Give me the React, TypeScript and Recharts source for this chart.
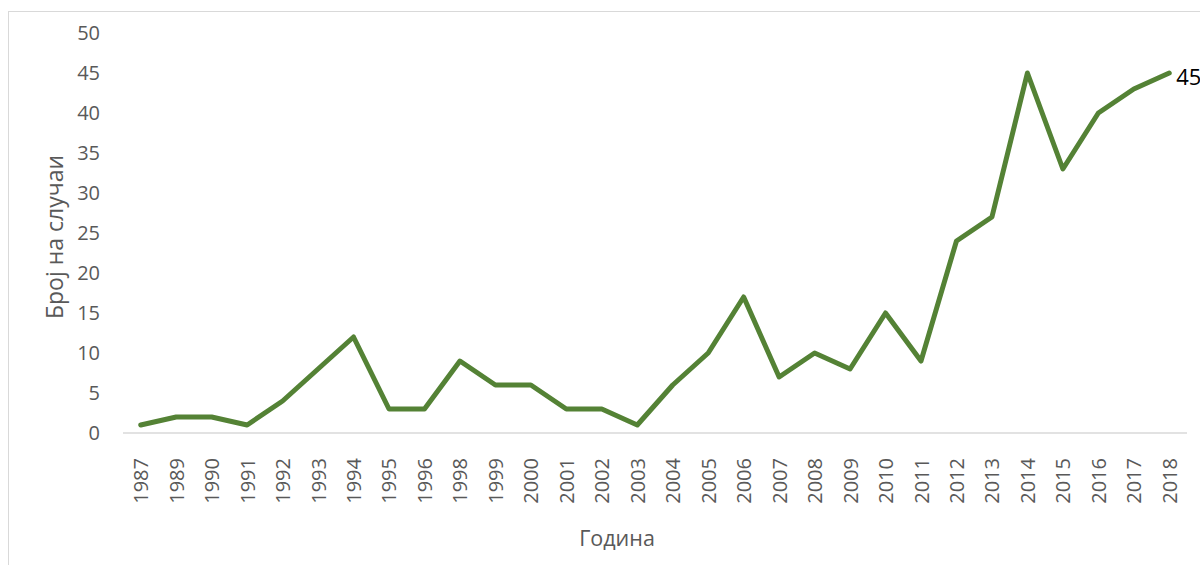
import React from 'react';
import { LineChart, Line, XAxis, YAxis, Label, LabelList } from 'recharts';

const years = ['1987','1989','1990','1991','1992','1993','1994','1995','1996','1998','1999','2000','2001','2002','2003','2004','2005','2006','2007','2008','2009','2010','2011','2012','2013','2014','2015','2016','2017','2018'];
const cases = [1,2,2,1,4,8,12,3,3,9,6,6,3,3,1,6,10,17,7,10,8,15,9,24,27,45,33,40,43,45];
const yTicks = [0,5,10,15,20,25,30,35,40,45,50];

const data = years.map((y, i) => ({ year: y, value: cases[i] }));

const FONT = '"Open Sans", "Noto Sans", sans-serif';
const GRAY = '#595959';

const XTick = (props: any) => {
  const { x, y, payload } = props;
  const ty = y + 17;
  return (
    <text x={x} y={ty} transform={`rotate(-90, ${x}, ${ty})`} textAnchor="end" dominantBaseline="central" fill={GRAY} fontSize={20} fontFamily={FONT}>
      {payload.value}
    </text>
  );
};

const EndLabel = (props: any) => {
  const { x, y, index, value } = props;
  if (index !== cases.length - 1) return null;
  return (
    <text x={x + 7} y={y + 3} dominantBaseline="central" fill="#000" fontSize={22} fontFamily={FONT}>
      {value}
    </text>
  );
};

export default function App() {
  return (
    <div style={{ position: 'absolute', left: 0, top: 0, width: 1200, height: 565, overflow: 'hidden', background: '#fff' }}>
      <div style={{ position: 'absolute', left: 8, top: 11, width: 1250, height: 620, border: '1px solid #d9d9d9' }} />
      <div style={{ position: 'absolute', left: 0, top: 0 }}>
        <LineChart width={1200} height={565} data={data} margin={{ top: 33, right: 13, left: 0, bottom: 0 }}>
          <XAxis
            dataKey="year"
            height={132}
            padding={{ left: 17.73, right: 17.73 }}
            axisLine={{ stroke: '#d9d9d9', strokeWidth: 1.5 }}
            tickLine={false}
            interval={0}
            tick={<XTick />}
          >
            <Label
              content={(p: any) => {
                const vb = p.viewBox;
                return (
                  <text x={vb.x + vb.width / 2 - 38} y={537} textAnchor="middle" dominantBaseline="central" fill={GRAY} fontSize={21.5} fontFamily={FONT}>
                    Година
                  </text>
                );
              }}
            />
          </XAxis>
          <YAxis
            width={123}
            domain={[0, 50]}
            ticks={yTicks}
            axisLine={false}
            tickLine={false}
            tickSize={0}
            tickMargin={23}
            tick={{ fill: GRAY, fontSize: 20, fontFamily: FONT }}
          >
            <Label
              content={(p: any) => {
                const vb = p.viewBox;
                const cx = 54;
                const cy = vb.y + vb.height / 2 + 4;
                return (
                  <text x={cx} y={cy} transform={`rotate(-90, ${cx}, ${cy})`} textAnchor="middle" dominantBaseline="central" fill={GRAY} fontSize={23} fontFamily={FONT}>
                    Број на случаи
                  </text>
                );
              }}
            />
          </YAxis>
          <Line
            type="linear"
            dataKey="value"
            stroke="#548235"
            strokeWidth={5}
            dot={false}
            activeDot={false}
            isAnimationActive={false}
            strokeLinejoin="round"
            strokeLinecap="round"
          >
            <LabelList dataKey="value" content={<EndLabel />} />
          </Line>
        </LineChart>
      </div>
    </div>
  );
}
